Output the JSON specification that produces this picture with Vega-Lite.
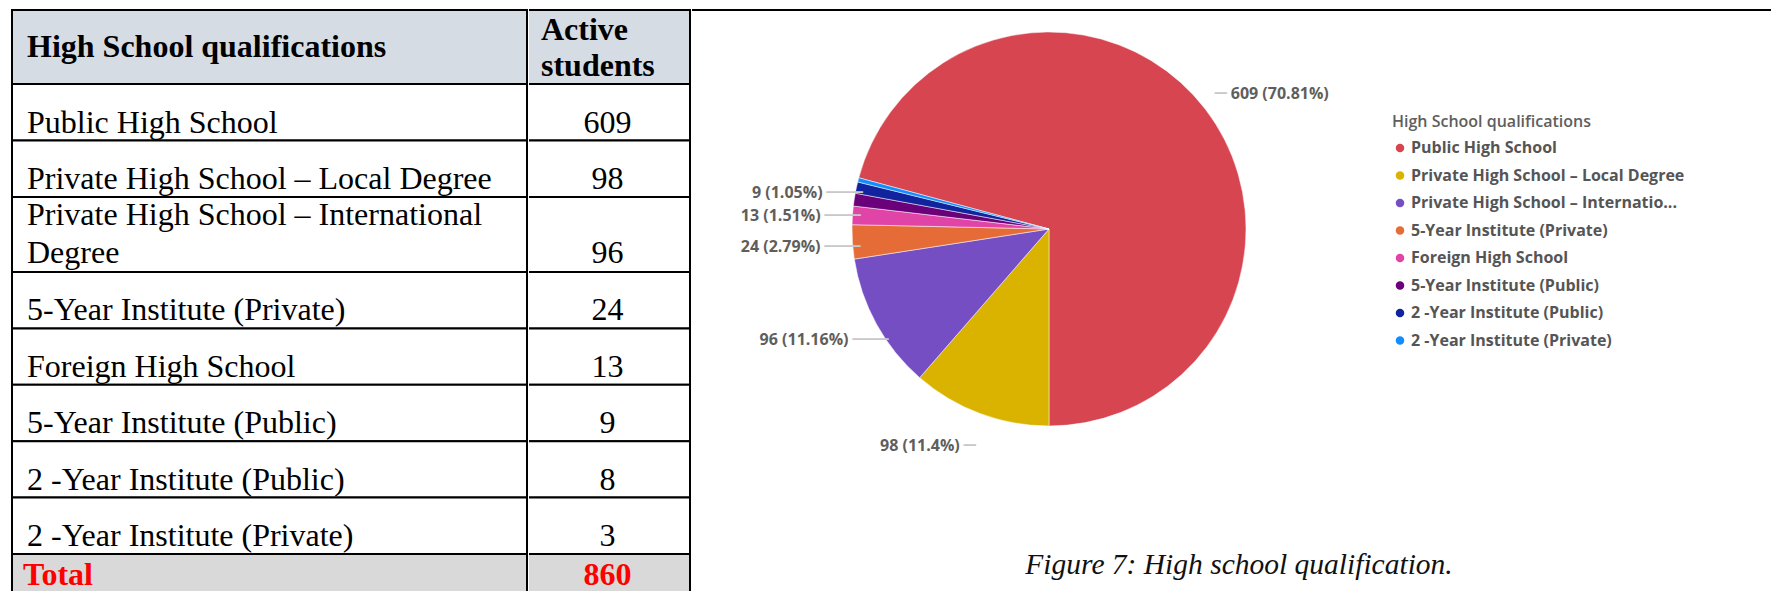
{
  "$schema": "https://vega.github.io/schema/vega-lite/v6.json",
  "padding": {"left": 11, "top": 9, "right": 0, "bottom": 0},
  "background": "#ffffff",
  "datasets": {
    "tbl": [
      {"q": "Public High School", "n": 609, "pct": 70.81},
      {"q": "Private High School – Local Degree", "n": 98, "pct": 11.4},
      {"q": "Private High School – International Degree", "n": 96, "pct": 11.16},
      {"q": "5-Year Institute (Private)", "n": 24, "pct": 2.79},
      {"q": "Foreign High School", "n": 13, "pct": 1.51},
      {"q": "5-Year Institute (Public)", "n": 9, "pct": 1.05},
      {"q": "2 -Year Institute (Public)", "n": 8, "pct": 0.93},
      {"q": "2 -Year Institute (Private)", "n": 3, "pct": 0.35}
    ]
  },
  "spacing": 0,
  "hconcat": [
    {
      "spacing": 0,
      "bounds": "flush",
      "vconcat": [
        {
          "width": 515, "height": 74,
          "data": {"values": [{"h": "High School qualifications"}]},
          "layer": [
            {"mark": {"type": "rect", "fill": "#d6dce4", "stroke": "#000000", "strokeWidth": 2}},
            {"mark": {"type": "text", "font": "Liberation Serif", "fontSize": 32, "fontWeight": "bold", "fill": "#000000", "align": "left", "baseline": "alphabetic", "dx": 15, "dy": 10},
             "encoding": {"text": {"field": "h"}, "x": {"datum": 0, "type": "quantitative", "scale": {"domain": [0, 1]}, "axis": null}}}
          ]
        },
        {
          "width": 515, "height": 113,
          "data": {"name": "tbl"},
          "transform": [{"filter": {"field": "q", "oneOf": ["Public High School", "Private High School – Local Degree"]}}],
          "layer": [
            {"mark": {"type": "rect", "fill": "#ffffff", "stroke": "#000000", "strokeWidth": 2},
             "encoding": {"y": {"field": "q", "type": "nominal", "sort": null, "axis": null, "scale": {"type": "band", "paddingInner": 0, "paddingOuter": 0}}}},
            {"mark": {"type": "text", "font": "Liberation Serif", "fontSize": 32, "fill": "#000000", "align": "left", "baseline": "alphabetic", "dx": 15, "dy": -8},
             "encoding": {"text": {"field": "q"}, "x": {"datum": 0, "type": "quantitative", "scale": {"domain": [0, 1]}, "axis": null}, "y": {"field": "q", "type": "nominal", "sort": null, "axis": null, "bandPosition": 1}}}
          ]
        },
        {
          "width": 515, "height": 75,
          "data": {"name": "tbl"},
          "transform": [
            {"filter": {"field": "q", "equal": "Private High School – International Degree"}},
            {"calculate": "replace(datum.q, 'International ', 'International\\n')", "as": "lab2"}
          ],
          "layer": [
            {"mark": {"type": "rect", "fill": "#ffffff", "stroke": "#000000", "strokeWidth": 2}},
            {"mark": {"type": "text", "font": "Liberation Serif", "fontSize": 32, "fill": "#000000", "align": "left", "baseline": "alphabetic", "lineBreak": "\n", "lineHeight": 38, "dx": 15, "dy": -9.5},
             "encoding": {"text": {"field": "lab2"}, "x": {"datum": 0, "type": "quantitative", "scale": {"domain": [0, 1]}, "axis": null}}}
          ]
        },
        {
          "width": 515, "height": 282,
          "data": {"name": "tbl"},
          "transform": [{"filter": {"field": "q", "oneOf": ["5-Year Institute (Private)", "Foreign High School", "5-Year Institute (Public)", "2 -Year Institute (Public)", "2 -Year Institute (Private)"]}}],
          "layer": [
            {"mark": {"type": "rect", "fill": "#ffffff", "stroke": "#000000", "strokeWidth": 2},
             "encoding": {"y": {"field": "q", "type": "nominal", "sort": null, "axis": null, "scale": {"type": "band", "paddingInner": 0, "paddingOuter": 0}}}},
            {"mark": {"type": "text", "font": "Liberation Serif", "fontSize": 32, "fill": "#000000", "align": "left", "baseline": "alphabetic", "dx": 15, "dy": -8},
             "encoding": {"text": {"field": "q"}, "x": {"datum": 0, "type": "quantitative", "scale": {"domain": [0, 1]}, "axis": null}, "y": {"field": "q", "type": "nominal", "sort": null, "axis": null, "bandPosition": 1}}}
          ]
        },
        {
          "width": 515, "height": 37,
          "data": {"values": [{"h": "Total"}]},
          "layer": [
            {"mark": {"type": "rect", "fill": "#d9d9d9", "stroke": "#000000", "strokeWidth": 2, "strokeDash": [552, 515, 40]}},
            {"mark": {"type": "text", "font": "Liberation Serif", "fontSize": 32, "fontWeight": "bold", "fill": "#ff0000", "align": "left", "baseline": "alphabetic", "dx": 11, "dy": 12.5},
             "encoding": {"text": {"field": "h"}, "x": {"datum": 0, "type": "quantitative", "scale": {"domain": [0, 1]}, "axis": null}}}
          ]
        }
      ]
    },
    {
      "spacing": 0,
      "bounds": "flush",
      "vconcat": [
        {
          "width": 161, "height": 74,
          "data": {"values": [{"h": "Active students"}]},
          "layer": [
            {"mark": {"type": "rect", "fill": "#d6dce4", "stroke": "#000000", "strokeWidth": 2, "strokeDash": [396, 80]}},
            {"mark": {"type": "text", "font": "Liberation Serif", "fontSize": 32, "fontWeight": "bold", "fill": "#000000", "align": "left", "baseline": "alphabetic", "lineBreak": " ", "lineHeight": 36, "dx": 12, "dy": -7},
             "encoding": {"text": {"field": "h"}, "x": {"datum": 0, "type": "quantitative", "scale": {"domain": [0, 1]}, "axis": null}}}
          ]
        },
        {
          "width": 161, "height": 113,
          "data": {"name": "tbl"},
          "transform": [{"filter": {"field": "q", "oneOf": ["Public High School", "Private High School – Local Degree"]}}],
          "layer": [
            {"mark": {"type": "rect", "fill": "#ffffff", "stroke": "#000000", "strokeWidth": 2, "strokeDash": [378.5, 60]},
             "encoding": {"y": {"field": "q", "type": "nominal", "sort": null, "axis": null, "scale": {"type": "band", "paddingInner": 0, "paddingOuter": 0}}}},
            {"mark": {"type": "text", "font": "Liberation Serif", "fontSize": 32, "fill": "#000000", "align": "center", "baseline": "alphabetic", "dx": -2, "dy": -8},
             "encoding": {"text": {"field": "n"}, "x": {"datum": 0.5, "type": "quantitative", "scale": {"domain": [0, 1]}, "axis": null}, "y": {"field": "q", "type": "nominal", "sort": null, "axis": null, "bandPosition": 1}}}
          ]
        },
        {
          "width": 161, "height": 75,
          "data": {"name": "tbl"},
          "transform": [{"filter": {"field": "q", "equal": "Private High School – International Degree"}}],
          "layer": [
            {"mark": {"type": "rect", "fill": "#ffffff", "stroke": "#000000", "strokeWidth": 2, "strokeDash": [397, 80]}},
            {"mark": {"type": "text", "font": "Liberation Serif", "fontSize": 32, "fill": "#000000", "align": "center", "baseline": "alphabetic", "dx": -2, "dy": 28.5},
             "encoding": {"text": {"field": "n"}, "x": {"datum": 0.5, "type": "quantitative", "scale": {"domain": [0, 1]}, "axis": null}}}
          ]
        },
        {
          "width": 161, "height": 282,
          "data": {"name": "tbl"},
          "transform": [{"filter": {"field": "q", "oneOf": ["5-Year Institute (Private)", "Foreign High School", "5-Year Institute (Public)", "2 -Year Institute (Public)", "2 -Year Institute (Private)"]}}],
          "layer": [
            {"mark": {"type": "rect", "fill": "#ffffff", "stroke": "#000000", "strokeWidth": 2, "strokeDash": [378.4, 60]},
             "encoding": {"y": {"field": "q", "type": "nominal", "sort": null, "axis": null, "scale": {"type": "band", "paddingInner": 0, "paddingOuter": 0}}}},
            {"mark": {"type": "text", "font": "Liberation Serif", "fontSize": 32, "fill": "#000000", "align": "center", "baseline": "alphabetic", "dx": -2, "dy": -8},
             "encoding": {"text": {"field": "n"}, "x": {"datum": 0.5, "type": "quantitative", "scale": {"domain": [0, 1]}, "axis": null}, "y": {"field": "q", "type": "nominal", "sort": null, "axis": null, "bandPosition": 1}}}
          ]
        },
        {
          "width": 161, "height": 37,
          "data": {"name": "tbl"},
          "transform": [{"aggregate": [{"op": "sum", "field": "n", "as": "tot"}]}],
          "layer": [
            {"mark": {"type": "rect", "fill": "#d9d9d9", "stroke": "#000000", "strokeWidth": 2, "strokeDash": [198, 400]}},
            {"mark": {"type": "text", "font": "Liberation Serif", "fontSize": 32, "fontWeight": "bold", "fill": "#ff0000", "align": "center", "baseline": "alphabetic", "dx": -2, "dy": 12.5},
             "encoding": {"text": {"field": "tot"}, "x": {"datum": 0.5, "type": "quantitative", "scale": {"domain": [0, 1]}, "axis": null}}}
          ]
        }
      ]
    },
    {
      "spacing": 0,
      "bounds": "flush",
      "vconcat": [
        {
          "width": 1080, "height": 2,
          "data": {"values": [{}]},
          "mark": {"type": "rule", "stroke": "#000000", "strokeWidth": 2},
          "encoding": {"y": {"datum": 1, "type": "quantitative", "scale": {"domain": [0, 1]}, "axis": null}}
        },
        {
          "width": 714, "height": 434,
          "data": {"name": "tbl"},
          "transform": [{"calculate": "datum.n + ' (' + datum.pct + '%)'", "as": "lab"}],
          "title": {"text": "Figure 7: High school qualification.", "orient": "bottom", "anchor": "middle", "font": "Liberation Serif", "fontStyle": "italic", "fontSize": 29.5, "fontWeight": "normal", "color": "#111111", "baseline": "alphabetic", "offset": 117, "dx": 190},
          "encoding": {
            "theta": {"field": "n", "type": "quantitative", "stack": true, "scale": {"range": [-1.30778, 4.9754]}},
            "order": {"field": "n", "type": "quantitative", "sort": "descending"}
          },
          "layer": [
            {
              "mark": {"type": "arc", "outerRadius": 197, "stroke": "#ffffff", "strokeWidth": 0.5},
              "encoding": {
                "color": {
                  "field": "q", "type": "nominal",
                  "scale": {
                    "domain": ["Public High School", "Private High School – Local Degree", "Private High School – International Degree", "5-Year Institute (Private)", "Foreign High School", "5-Year Institute (Public)", "2 -Year Institute (Public)", "2 -Year Institute (Private)"],
                    "range": ["#D64550", "#D9B300", "#744EC2", "#E66C37", "#E044A7", "#6B007B", "#12239E", "#118DFF"]
                  },
                  "legend": {
                    "orient": "none", "legendX": 1380, "legendY": 104, "padding": 0,
                    "title": "High School qualifications", "titleLimit": 400,
                    "titleFont": "Open Sans", "titleFontSize": 16, "titleFontWeight": 600, "titleColor": "#605e5c", "titlePadding": 10,
                    "labelFont": "Open Sans", "labelFontSize": 16, "labelFontWeight": "bold", "labelColor": "#555555",
                    "labelExpr": "truncate(datum.label, 35, 'right', '...')", "labelLimit": 400, "labelOffset": 3,
                    "symbolType": "circle", "symbolSize": 72, "symbolStrokeWidth": 0, "rowPadding": 11.5
                  }
                }
              }
            },
            {
              "mark": {"type": "text", "radius": 229, "align": "right", "baseline": "middle", "font": "Open Sans", "fontSize": 16, "fontWeight": "bold", "fill": "#605e5c"},
              "encoding": {"text": {"condition": {"test": "datum.n == 96", "field": "lab", "type": "nominal"}, "value": ""}}
            },
            {
              "mark": {"type": "text", "radius": 229, "align": "right", "baseline": "middle", "dy": 3, "font": "Open Sans", "fontSize": 16, "fontWeight": "bold", "fill": "#605e5c"},
              "encoding": {"text": {"condition": {"test": "datum.n == 13 || datum.n == 24", "field": "lab", "type": "nominal"}, "value": ""}}
            },
            {
              "mark": {"type": "text", "radius": 229, "align": "right", "baseline": "middle", "dy": -2, "font": "Open Sans", "fontSize": 16, "fontWeight": "bold", "fill": "#605e5c"},
              "encoding": {"text": {"condition": {"test": "datum.n == 9", "field": "lab", "type": "nominal"}, "value": ""}}
            },
            {
              "mark": {"type": "text", "radius": 229, "align": "right", "baseline": "middle", "dx": -9, "dy": 3, "font": "Open Sans", "fontSize": 16, "fontWeight": "bold", "fill": "#605e5c"},
              "encoding": {"text": {"condition": {"test": "datum.n == 98", "field": "lab", "type": "nominal"}, "value": ""}}
            },
            {
              "mark": {"type": "text", "radius": 229, "align": "left", "baseline": "middle", "dy": 4, "font": "Open Sans", "fontSize": 16, "fontWeight": "bold", "fill": "#605e5c"},
              "encoding": {"text": {"condition": {"test": "datum.n >= 600", "field": "lab", "type": "nominal"}, "value": ""}}
            },
            {
              "mark": {"type": "text", "radius": 229, "align": "left", "baseline": "middle", "dx": 4, "font": "DejaVu Sans", "fontSize": 20, "fill": "#c8c8c8"},
              "encoding": {"text": {"condition": {"test": "datum.n == 96", "value": "───"}, "value": ""}}
            },
            {
              "mark": {"type": "text", "radius": 229, "align": "left", "baseline": "middle", "dx": 4, "dy": 3, "font": "DejaVu Sans", "fontSize": 20, "fill": "#c8c8c8"},
              "encoding": {"text": {"condition": {"test": "datum.n == 13 || datum.n == 24", "value": "───"}, "value": ""}}
            },
            {
              "mark": {"type": "text", "radius": 229, "align": "left", "baseline": "middle", "dx": 4, "dy": -2, "font": "DejaVu Sans", "fontSize": 20, "fill": "#c8c8c8"},
              "encoding": {"text": {"condition": {"test": "datum.n == 9", "value": "───"}, "value": ""}}
            },
            {
              "mark": {"type": "text", "radius": 229, "align": "left", "baseline": "middle", "dx": -5, "dy": 3, "font": "DejaVu Sans", "fontSize": 20, "fill": "#c8c8c8"},
              "encoding": {"text": {"condition": {"test": "datum.n == 98", "value": "─"}, "value": ""}}
            },
            {
              "mark": {"type": "text", "radius": 229, "align": "right", "baseline": "middle", "dx": -4, "dy": 4, "font": "DejaVu Sans", "fontSize": 20, "fill": "#c8c8c8"},
              "encoding": {"text": {"condition": {"test": "datum.n >= 600", "value": "─"}, "value": ""}}
            }
          ]
        }
      ]
    }
  ],
  "config": {"view": {"stroke": null}, "concat": {"spacing": 0}}
}
